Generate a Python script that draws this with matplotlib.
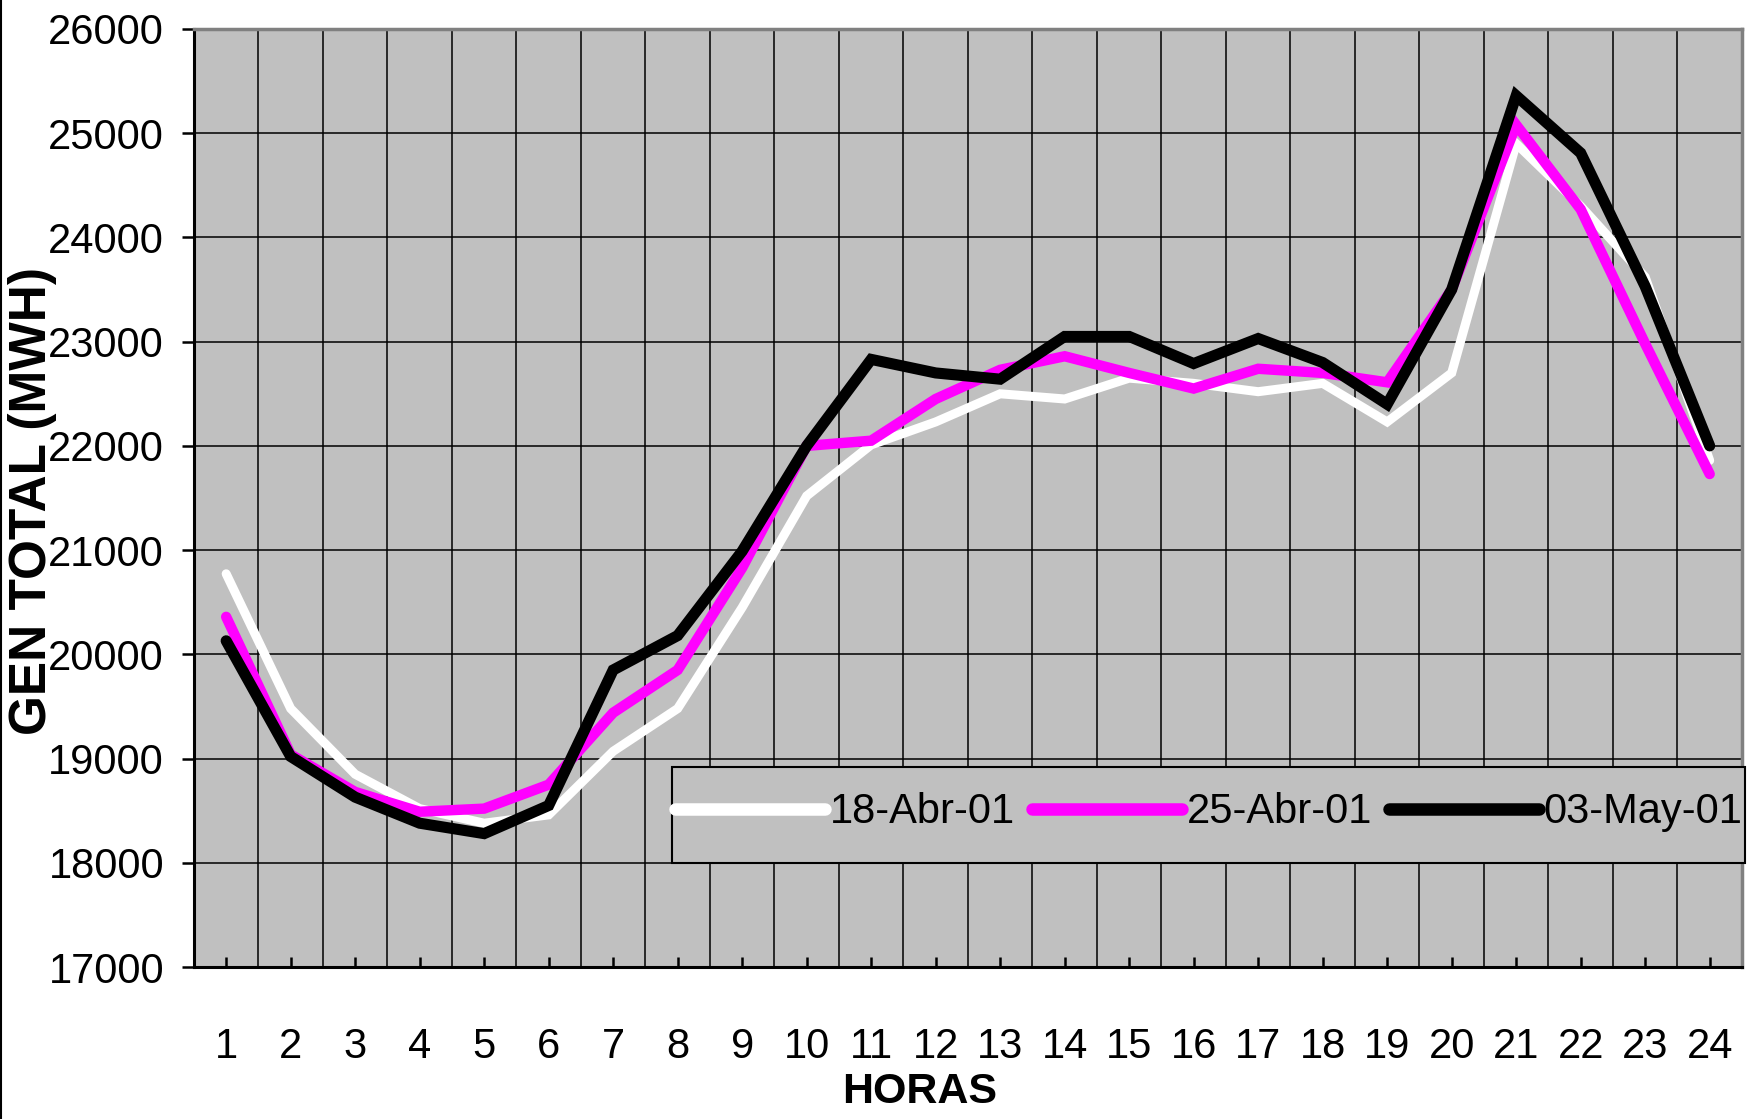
import numpy as np
import matplotlib
matplotlib.use("Agg")
import matplotlib.pyplot as plt
from matplotlib.lines import Line2D
from matplotlib.patches import Rectangle

# hourly total generation (MWh)
horas = list(range(1, 25))
labels = ["18-Abr-01", "25-Abr-01", "03-May-01"]
gen_18abr = [20773, 19480, 18850, 18520, 18380, 18460, 19070, 19480, 20450, 21520, 22010, 22230,
             22500, 22450, 22650, 22600, 22520, 22600, 22230, 22700, 24900, 24300, 23620, 21860]
gen_25abr = [20360, 19040, 18680, 18490, 18520, 18750, 19440, 19850, 20830, 22000, 22050, 22450,
             22730, 22860, 22700, 22550, 22740, 22700, 22610, 23500, 25080, 24270, 22980, 21730]
gen_03may = [20130, 19020, 18630, 18380, 18280, 18550, 19850, 20180, 20990, 22000, 22830, 22700,
             22640, 23050, 23050, 22790, 23030, 22800, 22400, 23500, 25360, 24810, 23530, 22000]

fam = ["Liberation Sans Narrow", "Liberation Sans", "DejaVu Sans"]
fs = 30

fig = plt.figure(figsize=(17.47, 11.19), dpi=100)
ax = fig.add_axes([0.1110, 0.1358, 0.8861, 0.8383])
ax.set_facecolor("#C0C0C0")

series = [(gen_18abr, "white", 6.5), (gen_25abr, "#FF00FF", 7.5), (gen_03may, "black", 8.0)]
for (vals, col, lw), lab in zip(series, labels):
    ax.plot(horas, vals, color=col, lw=lw, solid_capstyle="round", solid_joinstyle="miter",
            label=lab, zorder=3)

ax.set_xlim(0.5, 24.5)
ax.set_ylim(17000, 26000)
ax.set_xticks(horas)
ax.set_xticks(np.arange(1.5, 24, 1), minor=True)
ax.set_yticks(np.arange(17000, 26001, 1000))
ax.grid(which="minor", axis="x", color="black", lw=1.1)
ax.grid(which="major", axis="y", color="black", lw=1.1)
ax.set_axisbelow(True)

ax.tick_params(axis="x", which="major", direction="in", length=7, width=1.8, pad=43)
ax.tick_params(axis="x", which="minor", length=0)
ax.tick_params(axis="y", direction="out", length=8.5, width=1.8, pad=13)
for t in ax.get_xticklabels() + ax.get_yticklabels():
    t.set_family(fam)
    t.set_fontsize(fs)

for s in ["left", "bottom"]:
    ax.spines[s].set_color("black")
    ax.spines[s].set_linewidth(2.2)
for s in ["top", "right"]:
    ax.spines[s].set_color("#808080")
    ax.spines[s].set_linewidth(2.5)

ax.set_ylabel("GEN TOTAL (MWH)", fontsize=37, fontweight="bold",
              family=["Liberation Sans", "DejaVu Sans"], va="center")
ax.yaxis.set_label_coords(-0.104, 0.497)
ax.set_xlabel("HORAS", fontsize=31, fontweight="bold", family=fam)
ax.xaxis.set_label_coords(0.469, -0.112)

# legend box
box = Rectangle((0.3847, 0.2288), 0.6142, 0.0858, transform=fig.transFigure,
                facecolor="#C0C0C0", edgecolor="black", lw=1.5, zorder=4)
fig.add_artist(box)
handles = [Line2D([], [], color=c, lw=9, solid_capstyle="round") for _, c, _ in series]
leg = fig.legend(handles, labels, loc="center", bbox_to_anchor=(0.6918, 0.2740),
                 ncol=3, frameon=False, handlelength=3.6, handletextpad=0.12,
                 columnspacing=0.4, prop={"family": fam, "size": fs})
leg.set_zorder(5)

# left border of the picture
fig.add_artist(Line2D([0.0008, 0.0008], [0, 1], transform=fig.transFigure, color="black", lw=1.5))

fig.savefig("out.png", dpi=100)
